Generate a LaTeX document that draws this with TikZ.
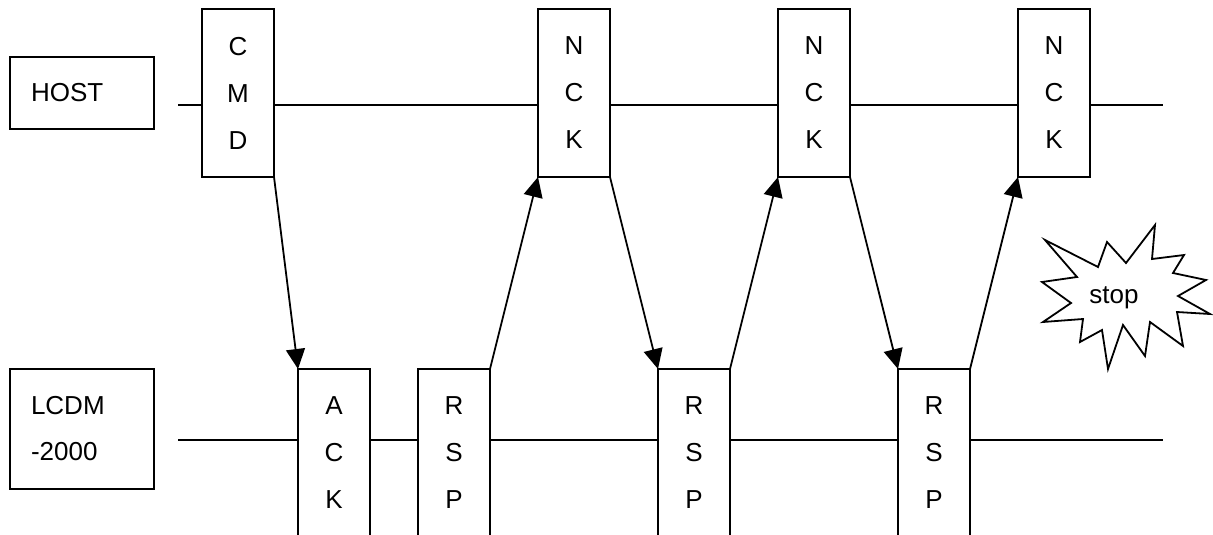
\documentclass[tikz,border=0pt]{standalone}
\usepackage{fontspec}
\setmainfont{Liberation Sans}
\usetikzlibrary{arrows.meta}
\begin{document}
\begin{tikzpicture}[x=1pt,y=-1pt,
  every node/.style={inner sep=0pt, outer sep=0pt},
  lane/.style={line width=1.8pt},
  msg/.style={draw, line width=1.8pt, fill=white, minimum width=72pt, minimum height=168pt, align=center, font=\fontsize{26}{47}\selectfont, anchor=north west},
  actor/.style={draw, line width=1.8pt, text width=102pt, inner xsep=21pt, align=left, font=\fontsize{26}{46}\selectfont, anchor=north west},
  flow/.style={line width=1.8pt, -{Triangle[length=20pt,width=19pt]}}
]
\useasboundingbox (0,0) rectangle (1213,535);
\clip (0,0) rectangle (1213,535);
% actors
\node[actor, minimum height=72pt] (host) at (10,57) {HOST};
\node[actor, minimum height=120pt] (lcdm) at (10,369) {LCDM\\-2000};
% lifelines
\coordinate (hL) at (178,105);
\coordinate (hR) at (1163,105);
\coordinate (lL) at (178,440);
\coordinate (lR) at (1163,440);
\draw[lane] (hL) -- (hR);
\draw[lane] (lL) -- (lR);
% host messages
\node[msg] (cmd) at (202,9) {C\\M\\D};
\node[msg] (nck1) at (538,9) {N\\C\\K};
\node[msg] (nck2) at (778,9) {N\\C\\K};
\node[msg] (nck3) at (1018,9) {N\\C\\K};
% device messages
\node[msg] (ack) at (298,369) {A\\C\\K};
\node[msg] (rsp1) at (418,369) {R\\S\\P};
\node[msg] (rsp2) at (658,369) {R\\S\\P};
\node[msg] (rsp3) at (898,369) {R\\S\\P};
% flows
\draw[flow] (cmd.south east) -- (ack.north west);
\draw[flow] (rsp1.north east) -- (nck1.south west);
\draw[flow] (nck1.south east) -- (rsp2.north west);
\draw[flow] (rsp2.north east) -- (nck2.south west);
\draw[flow] (nck2.south east) -- (rsp3.north west);
\draw[flow] (rsp3.north east) -- (nck3.south west);
% stop burst
\draw[line width=1.8pt, line join=miter, fill=white]
  (1155,225) -- (1152,259) -- (1184,255) -- (1173,273) -- (1206,280) -- (1178,296)
  -- (1210,314) -- (1177,312) -- (1183,346) -- (1150,322) -- (1145,356) -- (1123,325)
  -- (1108,369) -- (1102,330) -- (1080,342) -- (1083,319) -- (1043,322) -- (1071,303)
  -- (1042,282) -- (1077,277) -- (1045,240) -- (1098,267) -- (1107,242) -- (1126,263)
  -- cycle;
\node[font=\fontsize{26}{30}\selectfont] (stop) at (1114,298) {stop};
\end{tikzpicture}
\end{document}
